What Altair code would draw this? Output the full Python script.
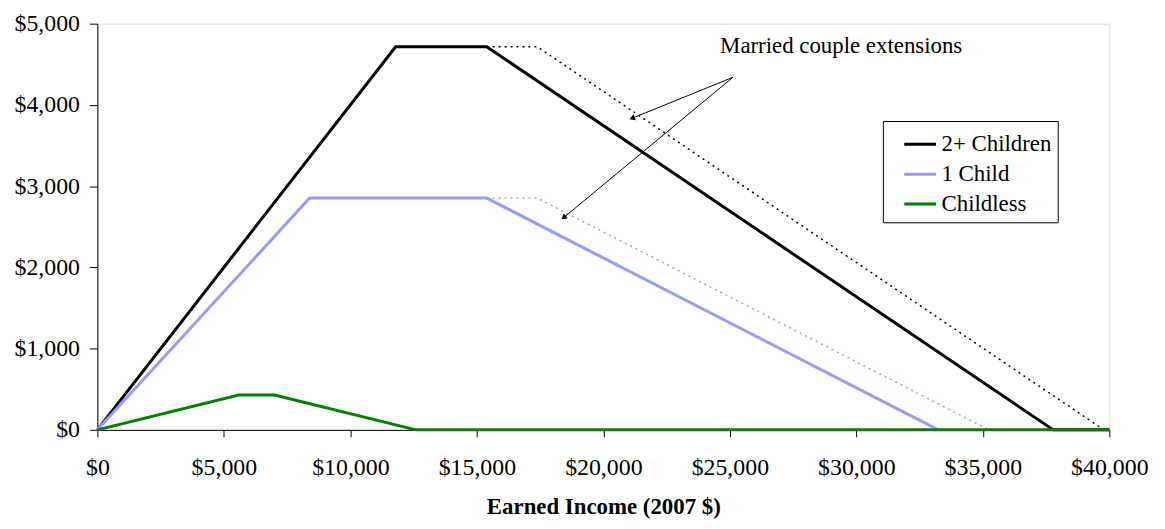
import math
import altair as alt
import pandas as pd

# ---- data (2007 EITC schedules) ----
two_plus_x = [0, 11790, 15390, 37783, 40000]
two_plus_y = [0, 4716, 4716, 0, 0]
one_child_x = [0, 8390, 15390, 33241]
one_child_y = [0, 2853, 2853, 0]
childless_x = [0, 5590, 7000, 12590, 40000]
childless_y = [0, 428, 428, 0, 0]

married_two_plus_x = [15390, 17390, 39783]
married_two_plus_y = [4716, 4716, 0]
married_one_child_x = [15390, 17390, 35241]
married_one_child_y = [2853, 2853, 0]

series_names = ["2+ Children", "1 Child", "Childless"]
series_colors = ["#000000", "#9999ff", "#008000"]

x_ticks = [0, 5000, 10000, 15000, 20000, 25000, 30000, 35000, 40000]
y_ticks = [0, 1000, 2000, 3000, 4000, 5000]

note_text = "Married couple extensions"
note_x = [29400]
note_y = [4720]
arrow_tail_x = [25120, 25120]
arrow_tail_y = [4340, 4340]
arrow_tip_x = [21170, 18460]
arrow_tip_y = [3840, 2620]

W, H = 1019, 409
FONT = "Liberation Serif"

rows = []
for name, xs, ys in [("2+ Children", two_plus_x, two_plus_y),
                     ("1 Child", one_child_x, one_child_y),
                     ("Childless", childless_x, childless_y)]:
    for i, (a, b) in enumerate(zip(xs, ys)):
        rows.append({"series": name, "x": a, "y": b, "o": i})
main_df = pd.DataFrame(rows)

drows = []
for name, col, xs, ys in [("m2", "#000000", married_two_plus_x, married_two_plus_y),
                          ("m1", "#9999ff", married_one_child_x, married_one_child_y)]:
    for i, (a, b) in enumerate(zip(xs, ys)):
        drows.append({"series": name, "col": col, "x": a, "y": b, "o": i})
dot_df = pd.DataFrame(drows)

sx = W / 40000.0
sy = H / 5000.0
arrows = []
for tx, ty, hx, hy in zip(arrow_tail_x, arrow_tail_y, arrow_tip_x, arrow_tip_y):
    dx = (hx - tx) * sx
    dy = -(hy - ty) * sy
    ang = (math.degrees(math.atan2(dx, -dy)) + 360) % 360
    arrows.append({"x": tx, "y": ty, "x2": hx, "y2": hy, "angle": ang})
arrow_df = pd.DataFrame(arrows)

xscale = alt.Scale(domain=[0, 40000], nice=False)
yscale = alt.Scale(domain=[0, 5000], nice=False)

xaxis = alt.Axis(values=x_ticks, format="$,.0f", title="Earned Income (2007 $)",
                 grid=False, labelFont=FONT, labelFontSize=24, labelColor="black",
                 tickSize=7, tickColor="#000000", domainColor="#000000",
                 labelPadding=19, titleFont=FONT, titleFontSize=23, titleFontWeight="bold",
                 titleColor="black", titlePadding=16, labelFlush=False)
yaxis = alt.Axis(values=y_ticks, format="$,.0f", title=None, grid=False,
                 labelFont=FONT, labelFontSize=24, labelColor="black",
                 tickSize=8, tickColor="#000000", domainColor="#000000", labelPadding=10)

main = alt.Chart(main_df).mark_line(strokeWidth=3, clip=False).encode(
    x=alt.X("x:Q", scale=xscale, axis=xaxis),
    y=alt.Y("y:Q", scale=yscale, axis=yaxis),
    color=alt.Color("series:N",
                    scale=alt.Scale(domain=series_names, range=series_colors),
                    sort=series_names,
                    legend=alt.Legend(title=None, orient="none", legendX=791, legendY=98,
                                      labelFont=FONT, labelFontSize=23, labelColor="black",
                                      symbolType="stroke", symbolSize=1024, symbolStrokeWidth=3,
                                      strokeColor="black", fillColor="white", padding=6,
                                      rowPadding=-2, symbolOffset=14, labelOffset=4)),
    order="o:Q",
)

dots = alt.Chart(dot_df).mark_line(strokeWidth=1.5, strokeDash=[2, 4]).encode(
    x="x:Q", y="y:Q",
    color=alt.Color("col:N", scale=None),
    detail="series:N",
    order="o:Q",
)

rules = alt.Chart(arrow_df).mark_rule(color="black", strokeWidth=1).encode(
    x="x:Q", y="y:Q", x2="x2:Q", y2="y2:Q")
heads = alt.Chart(arrow_df).mark_point(shape="triangle", filled=True, color="black",
                                       size=40, opacity=1).encode(
    x="x2:Q", y="y2:Q", angle=alt.Angle("angle:Q", scale=None))

note = alt.Chart(pd.DataFrame({"x": note_x, "y": note_y, "t": [note_text]})).mark_text(
    font=FONT, fontSize=23, color="black").encode(x="x:Q", y="y:Q", text="t:N")

chart = alt.layer(dots, main, rules, heads, note).properties(
    width=W, height=H,
    autosize=alt.AutoSizeParams(type="none"),
    padding={"left": 90, "top": 14, "right": 48, "bottom": 94},
).configure_view(stroke="#808080", strokeWidth=1.5).configure(background="white")

chart.save("out.html", embed_options={"renderer": "svg", "actions": False})
